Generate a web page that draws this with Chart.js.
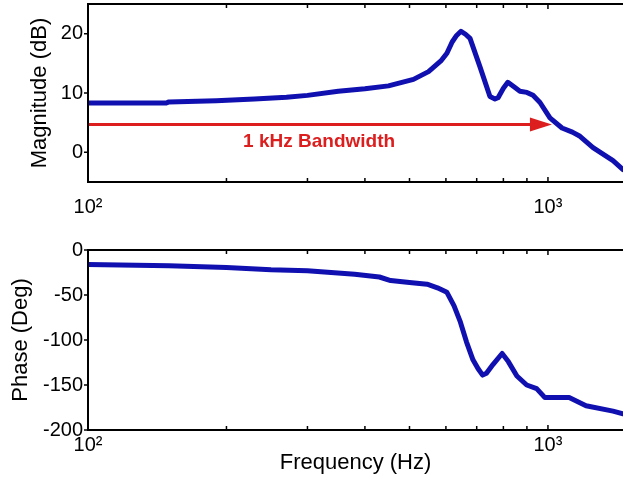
<!DOCTYPE html>
<html>
<head>
<meta charset="utf-8">
<script src="https://cdn.jsdelivr.net/npm/chart.js@4.4.1/dist/chart.umd.min.js"></script>
<style>
body{margin:0;background:#fff;}
#wrap{position:relative;width:623px;height:478px;background:#fff;}
canvas{position:absolute;left:0;}
#magCanvas{top:0;}
#phaseCanvas{top:230px;}
</style>
</head>
<body>
<div id="wrap">
<canvas id="magCanvas" width="623" height="230"></canvas>
<canvas id="phaseCanvas" width="623" height="248"></canvas>
</div>
<script>
// magnitude response (Hz, dB)
const magFreq = [100, 148, 150, 190, 230, 270, 300, 350, 400, 450, 510, 550, 585, 603, 619, 633, 647, 662, 677, 711, 748, 767, 779, 800, 818, 845, 869, 900, 928, 961, 1010, 1073, 1130, 1174, 1253, 1385, 1456];
const magDb   = [8.3, 8.3, 8.5, 8.7, 9.0, 9.3, 9.6, 10.3, 10.7, 11.2, 12.3, 13.6, 15.4, 16.7, 18.6, 19.7, 20.4, 19.9, 19.2, 14.5, 9.4, 9.0, 9.2, 10.8, 11.8, 11.0, 10.3, 10.1, 9.6, 8.4, 5.8, 4.1, 3.4, 2.7, 0.8, -1.4, -2.9];

// phase response (Hz, deg)
const phaseFreq = [100, 150, 200, 250, 300, 380, 430, 455, 500, 546, 575, 603, 625, 644, 665, 687, 705, 721, 735, 760, 795, 820, 856, 899, 945, 985, 1112, 1210, 1385, 1456];
const phaseDeg  = [-16, -17.6, -19.5, -22, -23, -27, -30, -34, -36, -38, -42, -47, -62, -79, -102, -122, -132, -139, -137, -127, -115, -124, -140, -150, -154, -164, -164, -173, -179, -182];

const freqMin = 100, freqMax = 1456;
const xTickValues = [100, 1000];
const xTickLabels = ['10²', '10³'];
const xMinorTicks = [200, 300, 400, 500, 600, 700, 800, 900];
const magTicks = [0, 10, 20];
const phaseTicks = [0, -50, -100, -150, -200];

// bandwidth annotation
const bandwidthLabel = '1 kHz Bandwidth';
const arrowFrom = 100, arrowTo = 1020, arrowLevel = 4.7;
const labelFreq = 318, labelDb = 1.7;

const blue = '#1010b0';
const red = '#dc1e1e';
const fontFam = '"Liberation Sans", Arial, Helvetica, sans-serif';

const frame = {
  id: 'frame',
  afterDatasetsDraw(chart) {
    const {ctx, chartArea: a, scales: {x, y}} = chart;
    ctx.save();
    ctx.strokeStyle = '#000';
    ctx.lineWidth = 2;
    ctx.beginPath();
    ctx.moveTo(a.right + 2, a.top);
    ctx.lineTo(a.left, a.top);
    ctx.lineTo(a.left, a.bottom);
    ctx.lineTo(a.right + 2, a.bottom);
    ctx.stroke();
    ctx.lineWidth = 1.5;
    ctx.beginPath();
    xTickValues.concat(xMinorTicks).forEach(v => {
      const px = x.getPixelForValue(v);
      const len = xTickValues.includes(v) ? 5 : 4;
      ctx.moveTo(px, a.bottom); ctx.lineTo(px, a.bottom - len);
      ctx.moveTo(px, a.top); ctx.lineTo(px, a.top + len);
    });
    y.ticks.forEach(t => {
      const py = y.getPixelForValue(t.value);
      ctx.moveTo(a.left - 4, py); ctx.lineTo(a.left, py);
    });
    ctx.stroke();
    ctx.restore();
  }
};

const bandwidthMark = {
  id: 'bandwidthMark',
  beforeDatasetsDraw(chart) {
    const {ctx, scales: {x, y}} = chart;
    const x0 = x.getPixelForValue(arrowFrom);
    const x1 = x.getPixelForValue(arrowTo);
    const py = y.getPixelForValue(arrowLevel);
    ctx.save();
    ctx.strokeStyle = red;
    ctx.fillStyle = red;
    ctx.lineWidth = 3;
    ctx.beginPath();
    ctx.moveTo(x0, py);
    ctx.lineTo(x1 - 20, py);
    ctx.stroke();
    ctx.beginPath();
    ctx.moveTo(x1, py);
    ctx.lineTo(x1 - 22, py - 7);
    ctx.lineTo(x1 - 22, py + 7);
    ctx.closePath();
    ctx.fill();
    ctx.font = 'bold 19px ' + fontFam;
    ctx.textAlign = 'center';
    ctx.textBaseline = 'middle';
    ctx.fillText(bandwidthLabel, x.getPixelForValue(labelFreq), y.getPixelForValue(labelDb));
    ctx.restore();
  }
};

function makeChart(id, freq, vals, o) {
  return new Chart(document.getElementById(id), {
    type: 'line',
    data: {
      datasets: [{
        data: freq.map((f, i) => ({x: f, y: vals[i]})),
        borderColor: blue,
        borderWidth: 5,
        pointRadius: 0,
        tension: 0,
        fill: false,
        borderJoinStyle: 'round',
        borderCapStyle: 'round'
      }]
    },
    options: {
      responsive: false,
      animation: false,
      layout: {padding: {top: o.top, left: 0, right: 0, bottom: 0}},
      plugins: {legend: {display: false}, tooltip: {enabled: false}},
      scales: {
        x: {
          type: 'logarithmic',
          min: freqMin,
          max: freqMax,
          grid: {display: false, drawTicks: false},
          border: {display: false},
          afterBuildTicks: s => { s.ticks = xTickValues.map(v => ({value: v})); },
          afterFit: s => { s.height = 48; s.paddingLeft = 0; s.paddingRight = 0; },
          ticks: {
            padding: o.xPad,
            color: '#000',
            font: {family: fontFam, size: 20},
            maxRotation: 0,
            callback: v => xTickLabels[xTickValues.indexOf(v)]
          },
          title: o.xTitle ? {
            display: true, text: o.xTitle, color: '#000',
            font: {family: fontFam, size: 22},
            padding: {top: 0, bottom: 2}
          } : {display: false}
        },
        y: {
          min: o.min,
          max: o.max,
          grid: {display: false, drawTicks: false},
          border: {display: false},
          afterBuildTicks: s => { s.ticks = o.ticks.map(v => ({value: v})); },
          afterFit: s => { s.width = 88; s.paddingTop = 0; s.paddingBottom = 0; },
          ticks: {
            padding: 5,
            color: '#000',
            font: {family: fontFam, size: 20}
          },
          title: {
            display: true, text: o.yTitle, color: '#000',
            font: {family: fontFam, size: 22},
            padding: {top: o.yTitlePad, bottom: 0}
          }
        }
      }
    },
    plugins: o.extra ? [o.extra, frame] : [frame]
  });
}

makeChart('magCanvas', magFreq, magDb, {
  top: 4, min: -5, max: 25, ticks: magTicks, xPad: 13,
  yTitle: 'Magnitude (dB)', yTitlePad: 27, extra: bandwidthMark
});

makeChart('phaseCanvas', phaseFreq, phaseDeg, {
  top: 20, min: -200, max: 0, ticks: phaseTicks, xPad: 3,
  yTitle: 'Phase (Deg)', yTitlePad: 8, xTitle: 'Frequency (Hz)'
});
</script>
</body>
</html>
